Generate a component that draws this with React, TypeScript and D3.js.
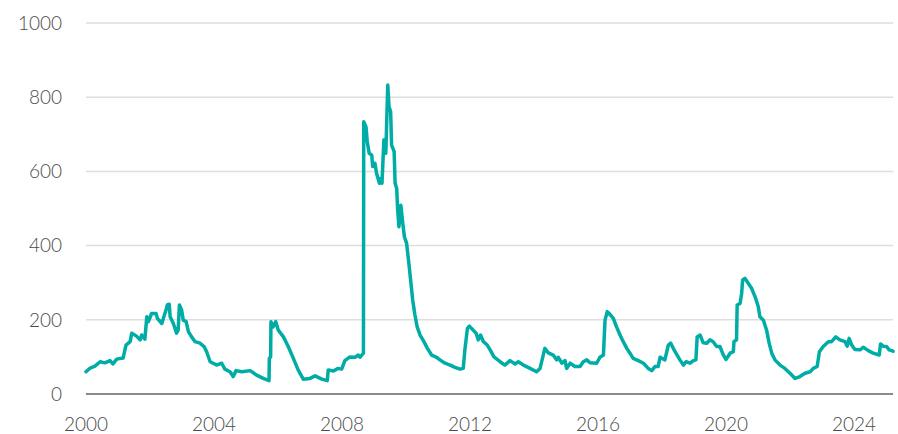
import React from "react";
import * as d3 from "d3";

const width = 898;
const height = 434;
const margin = { left: 86, right: 5, top: 23, bottom: 40 };

// decimal years and values
const years = [
  2000.0, 2000.13, 2000.28, 2000.44, 2000.59, 2000.75, 2000.84, 2000.96, 2001.16, 2001.25,
  2001.38, 2001.43, 2001.58, 2001.69, 2001.74, 2001.84, 2001.9, 2001.95, 2002.05, 2002.19,
  2002.23, 2002.37, 2002.44, 2002.5, 2002.54, 2002.6, 2002.63, 2002.73, 2002.83, 2002.88,
  2002.92, 2002.99, 2003.04, 2003.13, 2003.2, 2003.3, 2003.41, 2003.56, 2003.69, 2003.77,
  2003.88, 2004.08, 2004.24, 2004.34, 2004.5, 2004.6, 2004.69, 2004.87, 2005.13, 2005.33,
  2005.54, 2005.72, 2005.73, 2005.77, 2005.78, 2005.85, 2005.93, 2006.01, 2006.17, 2006.32,
  2006.48, 2006.63, 2006.79, 2007.0, 2007.16, 2007.37, 2007.54, 2007.57, 2007.73, 2007.88,
  2007.99, 2008.09, 2008.25, 2008.41, 2008.51, 2008.56, 2008.67, 2008.68, 2008.75, 2008.79,
  2008.85, 2008.93, 2008.96, 2009.03, 2009.08, 2009.17, 2009.21, 2009.25, 2009.31, 2009.37,
  2009.43, 2009.47, 2009.52, 2009.55, 2009.63, 2009.66, 2009.71, 2009.74, 2009.78, 2009.84,
  2009.9, 2009.95, 2010.02, 2010.09, 2010.15, 2010.21, 2010.28, 2010.35, 2010.44, 2010.56,
  2010.67, 2010.8, 2010.96, 2011.06, 2011.22, 2011.38, 2011.53, 2011.69, 2011.79, 2011.84,
  2011.92, 2011.98, 2012.08, 2012.19, 2012.26, 2012.33, 2012.42, 2012.54, 2012.63, 2012.75,
  2012.94, 2013.09, 2013.25, 2013.41, 2013.51, 2013.67, 2013.88, 2014.08, 2014.19, 2014.34,
  2014.45, 2014.6, 2014.71, 2014.76, 2014.87, 2014.97, 2015.02, 2015.13, 2015.28, 2015.44,
  2015.54, 2015.65, 2015.75, 2015.96, 2016.06, 2016.17, 2016.22, 2016.29, 2016.35, 2016.48,
  2016.58, 2016.69, 2016.79, 2016.9, 2017.0, 2017.1, 2017.26, 2017.42, 2017.57, 2017.68,
  2017.78, 2017.88, 2017.94, 2018.09, 2018.2, 2018.27, 2018.41, 2018.56, 2018.67, 2018.75,
  2018.88, 2018.98, 2019.06, 2019.1, 2019.19, 2019.29, 2019.4, 2019.5, 2019.6, 2019.71,
  2019.81, 2019.92, 2020.0, 2020.13, 2020.23, 2020.25, 2020.33, 2020.35, 2020.44, 2020.49,
  2020.52, 2020.59, 2020.7, 2020.8, 2020.91, 2021.01, 2021.06, 2021.17, 2021.27, 2021.35,
  2021.43, 2021.53, 2021.69, 2021.84, 2022.0, 2022.16, 2022.31, 2022.47, 2022.63, 2022.73,
  2022.85, 2022.92, 2023.04, 2023.2, 2023.3, 2023.43, 2023.56, 2023.72, 2023.79, 2023.85,
  2023.93, 2024.03, 2024.19, 2024.29, 2024.45, 2024.6, 2024.79, 2024.83, 2024.91, 2025.02,
  2025.1, 2025.18, 2025.22,
];

const values = [
  60, 70, 75, 87, 84, 90, 81, 94, 97, 132,
  141, 164, 156, 146, 159, 148, 208, 195, 217, 217,
  204, 190, 210, 226, 240, 242, 208, 190, 164, 172,
  240, 226, 199, 195, 168, 154, 141, 137, 128, 114,
  87, 78, 83, 67, 60, 47, 63, 60, 63, 51,
  42, 36, 96, 100, 195, 181, 195, 172, 154, 128,
  96, 65, 40, 42, 49, 40, 36, 65, 62, 69,
  67, 90, 100, 99, 105, 99, 110, 734, 720, 680,
  649, 644, 613, 622, 595, 568, 581, 568, 685, 649,
  833, 774, 761, 671, 653, 568, 554, 496, 451, 509,
  460, 424, 406, 352, 303, 253, 213, 181, 159, 141,
  123, 105, 99, 92, 83, 78, 72, 67, 69, 119,
  177, 183, 174, 164, 146, 159, 141, 132, 119, 100,
  87, 78, 90, 81, 87, 78, 69, 60, 69, 123,
  111, 105, 92, 99, 83, 90, 69, 83, 74, 74,
  87, 92, 84, 83, 99, 105, 199, 222, 217, 204,
  181, 159, 141, 123, 110, 96, 90, 83, 69, 63,
  74, 74, 99, 92, 132, 137, 114, 92, 78, 87,
  83, 90, 92, 154, 159, 138, 137, 146, 141, 128,
  128, 105, 93, 110, 114, 141, 146, 240, 244, 271,
  307, 312, 298, 285, 262, 235, 208, 199, 172, 137,
  110, 92, 78, 69, 56, 42, 47, 56, 60, 69,
  74, 114, 128, 141, 141, 154, 146, 141, 129, 150,
  132, 120, 119, 126, 117, 110, 105, 135, 129, 128,
  119, 117, 115,
];

const yTicks = [0, 200, 400, 600, 800, 1000];
const xTicks = [2000, 2004, 2008, 2012, 2016, 2020, 2024];

export default function App() {
  const x = d3
    .scaleLinear()
    .domain([2000, 2025.22])
    .range([margin.left, width - margin.right]);
  const y = d3
    .scaleLinear()
    .domain([0, 1000])
    .range([height - margin.bottom, margin.top]);

  const points = years.map((yr, i) => [yr, values[i]] as [number, number]);
  const line = d3
    .line<[number, number]>()
    .x(d => x(d[0]))
    .y(d => y(d[1]));

  const font = "'Gill Sans', 'Gill Sans MT', Lato, 'Open Sans', sans-serif";

  return (
    <svg
      width={width}
      height={height}
      style={{ position: "absolute", left: 0, top: 0, background: "#fff" }}
    >
      {yTicks.map(t => (
        <g key={t}>
          <line
            x1={margin.left}
            x2={width - margin.right}
            y1={y(t)}
            y2={y(t)}
            stroke={t === 0 ? "#8a8a8a" : "#dedede"}
            strokeWidth={t === 0 ? 1.8 : 1.5}
          />
          <text
            x={62}
            y={y(t)}
            dy="0.36em"
            textAnchor="end"
            fontFamily={font}
            fontWeight={300}
            fontSize={19}
            fill="#4a4a4a"
          >
            {t}
          </text>
        </g>
      ))}
      {xTicks.map(t => (
        <text
          key={t}
          x={x(t)}
          y={431}
          textAnchor="middle"
          fontFamily={font}
          fontWeight={300}
          fontSize={19}
          fill="#4a4a4a"
        >
          {t}
        </text>
      ))}
      <path
        d={line(points) || ""}
        fill="none"
        stroke="#00aca6"
        strokeWidth={3.5}
        strokeLinejoin="round"
        strokeLinecap="round"
      />
    </svg>
  );
}
